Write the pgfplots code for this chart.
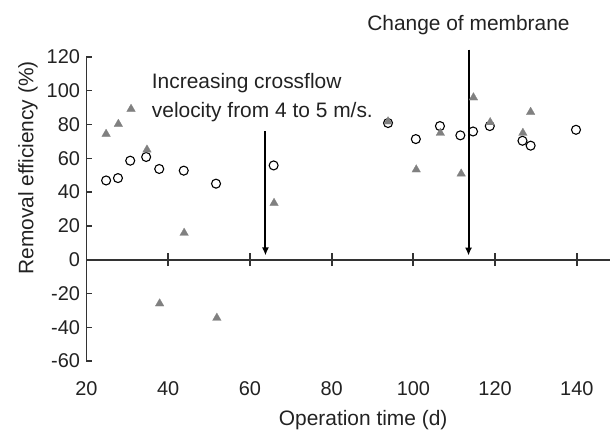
\documentclass[border=0pt]{standalone}
\usepackage{fontspec}
\setmainfont{Liberation Sans}
\usepackage{pgfplots}
\pgfplotsset{compat=1.18}
\usetikzlibrary{arrows.meta}
\definecolor{axgray}{RGB}{51,51,51}
\definecolor{trigray}{RGB}{128,128,128}
\definecolor{txt}{RGB}{34,34,34}
\begin{document}
\begin{tikzpicture}
\begin{axis}[
  scale only axis, width=523bp, height=304bp,
  xmin=20, xmax=148, ymin=-60, ymax=120,
  axis y line*=left, axis x line*=bottom,
  x axis line style={draw=none}, xtick style={draw=none},
  y axis line style={axgray,line width=1.4bp},
  ytick style={axgray,line width=1.4bp},
  tick align=inside, major tick length=6bp,
  xtick={20,40,60,80,100,120,140},
  xticklabels={20,40,60,80,100,120,140},
  ytick={-60,-40,-20,0,20,40,60,80,100,120},
  yticklabels={-60,-40,-20,0,20,40,60,80,100,120},
  extra y ticks={0}, extra y tick labels={},
  extra y tick style={grid=major, major grid style={axgray,line width=2bp}},
  tick label style={font=\fontsize{20}{24}\selectfont, text=txt},
  yticklabel style={xshift=-3bp},
  xticklabel style={yshift=-17bp},
  xlabel={Operation time (d)},
  ylabel={Removal efficiency (\%)},
  label style={font=\fontsize{21}{25}\selectfont, text=txt},
  xlabel style={at={(axis description cs:0.529,-0.194)}, anchor=center},
  ylabel style={at={(axis description cs:-0.112,0.635)}, anchor=center},
  clip=false,
]
\coordinate (o) at (rel axis cs:0,0);
% zero line, drawn again as a plain path, and its crossing ticks
\draw[axgray,line width=2bp] (axis cs:20,0) -- (axis cs:148,0);
\draw[axgray,line width=2bp]
  (axis cs:40,-3.85) -- (axis cs:40,3.85)
  (axis cs:60,-3.85) -- (axis cs:60,3.85)
  (axis cs:80,-3.85) -- (axis cs:80,3.85)
  (axis cs:100,-3.85) -- (axis cs:100,3.85)
  (axis cs:120,-3.85) -- (axis cs:120,3.85)
  (axis cs:140,-3.85) -- (axis cs:140,3.85);
% open circles
\addplot[only marks, mark=o, mark size=4.5bp, mark options={black,line width=1.1bp}] coordinates {
(24.8,46.9) (27.7,48.3) (30.7,58.6) (34.6,60.8) (37.8,53.7) (43.8,52.7) (51.7,45.0)
(65.8,55.8) (93.8,80.9) (100.6,71.4) (106.5,79.1) (111.5,73.6) (114.6,75.9)
(118.7,79.1) (126.7,70.4) (128.7,67.5) (139.8,76.9)};
% grey triangles
\addplot[trigray, only marks, mark=triangle*, mark size=5bp, mark options={draw=trigray,fill=trigray,line width=0.2bp}] coordinates {
(24.8,74.4) (27.8,80.3) (30.9,89.2) (34.8,65.1) (37.9,-26.0) (43.9,15.8) (51.9,-34.5)
(65.9,33.5) (93.8,81.8) (100.7,53.3) (106.6,75.0) (111.7,50.9) (114.7,96.0)
(118.8,81.3) (126.8,75.0) (128.7,87.4)};
% arrows and notes
\draw[black,line width=2bp,-{Latex[length=8bp,width=7bp]}] (axis cs:63.8,76) -- (axis cs:63.8,2.5);
\draw[black,line width=2bp,-{Latex[length=8bp,width=7bp]}] (axis cs:113.5,124.3) -- (axis cs:113.5,2.4);
\node[anchor=west,inner sep=0,align=left,text=txt,font=\fontsize{21}{28.7}\selectfont]
  at (axis cs:35.96,96.1) {Increasing crossflow\\velocity from 4 to 5 m/s.};
\node[anchor=west,inner sep=0,text=txt,font=\fontsize{21}{25}\selectfont]
  at (axis cs:88.67,138.9) {Change of membrane};
\end{axis}
\pgfresetboundingbox
\path[use as bounding box] (o) ++(-86.5bp,-72bp) rectangle ++(611bp,433bp);
\end{tikzpicture}
\end{document}
